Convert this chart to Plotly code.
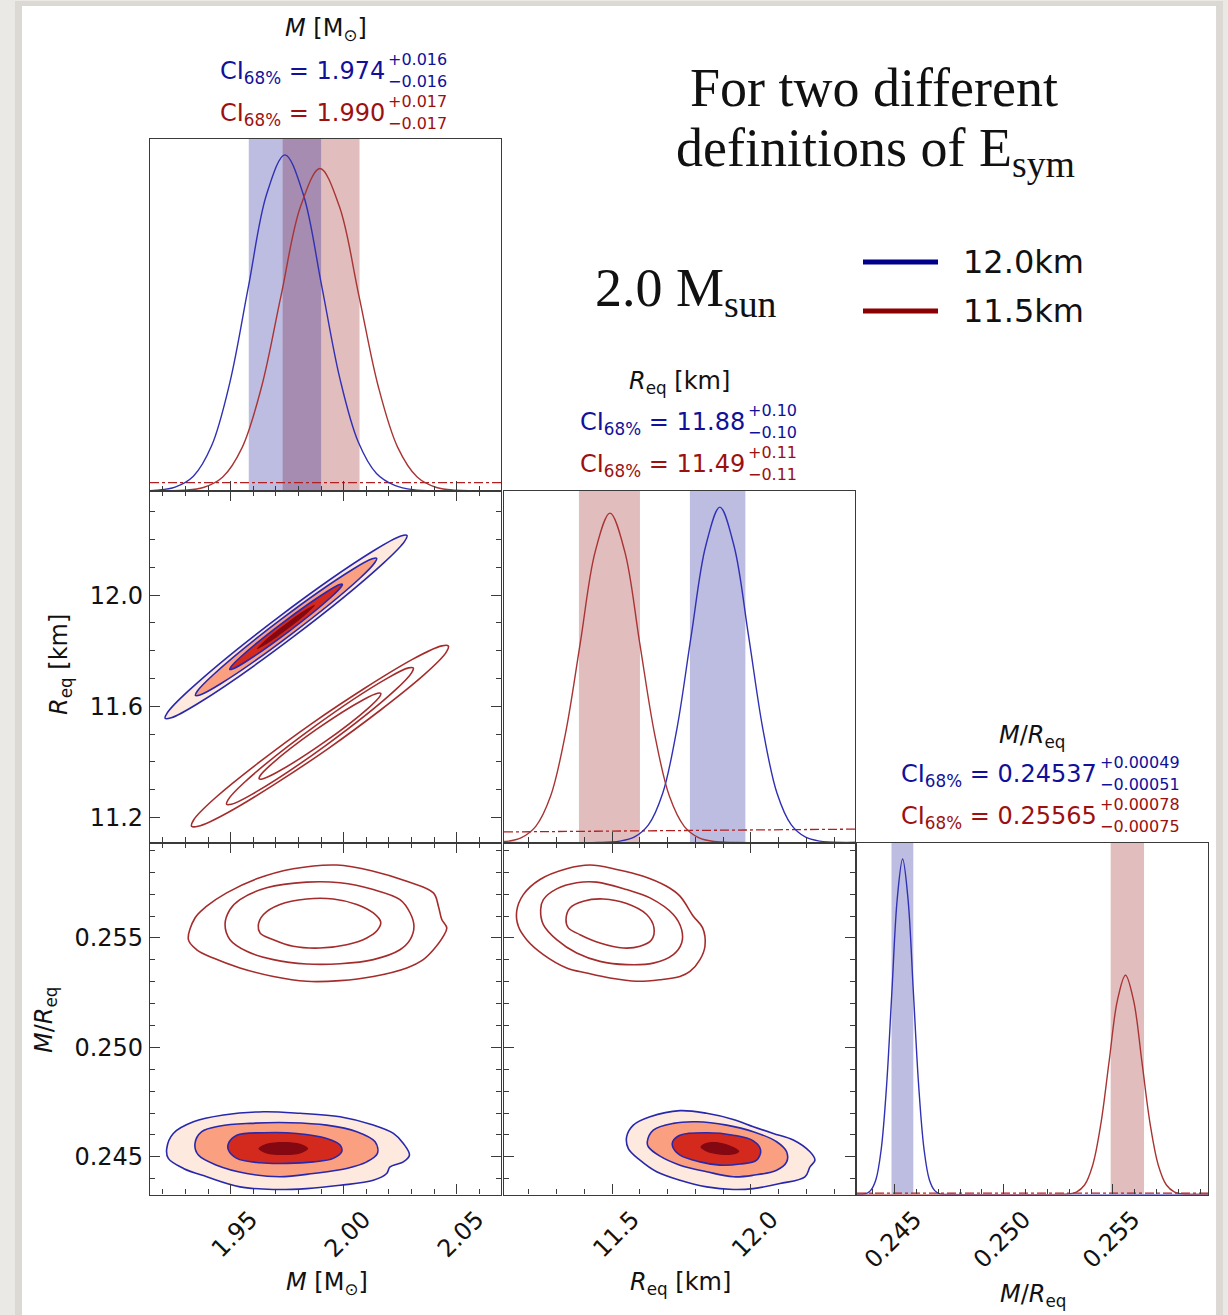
import plotly.graph_objects as go

W, H = 1228, 1315

# ---------------- summary statistics (68% CI) ----------------
param_names = ["M", "Req", "M/Req"]
blue_median = [1.974, 11.88, 0.24537]
blue_plus = [0.016, 0.10, 0.00049]
blue_minus = [0.016, 0.10, 0.00051]
red_median = [1.990, 11.49, 0.25565]
red_plus = [0.017, 0.11, 0.00078]
red_minus = [0.017, 0.11, 0.00075]
decimals = [3, 2, 5]
legend_labels = ["12.0km", "11.5km"]

# ---------------- axes ----------------
M_range = [1.9143, 2.0696]
R_range = [11.110, 12.375]
MR_range = [0.24328, 0.25936]
M_ticks = [1.95, 2.00, 2.05]
M_ticklabels = ["1.95", "2.00", "2.05"]
R_ticks_x = [11.5, 12.0]
R_ticklabels_x = ["11.5", "12.0"]
R_ticks_y = [11.2, 11.6, 12.0]
R_ticklabels_y = ["11.2", "11.6", "12.0"]
MR_ticks = [0.245, 0.250, 0.255]
MR_ticklabels = ["0.245", "0.250", "0.255"]

# ---------------- 1D marginals (height as fraction of panel height) ----------------
M_blue_x = [1.9143, 1.9173, 1.9254, 1.9335, 1.9416, 1.9497, 1.9578, 1.9659, 1.9740,
            1.9821, 1.9902, 1.9983, 2.0064, 2.0145, 2.0226, 2.0307, 2.0696]
M_blue_y = [0.001, 0.002, 0.011, 0.042, 0.129, 0.310, 0.579, 0.843, 0.955,
            0.843, 0.585, 0.320, 0.140, 0.050, 0.016, 0.004, 0.000]
M_red_x = [1.9143, 1.9293, 1.9379, 1.9465, 1.9551, 1.9637, 1.9723, 1.9809, 1.9895,
           1.9981, 2.0067, 2.0153, 2.0239, 2.0325, 2.0411, 2.0497, 2.0696]
M_red_y = [0.000, 0.002, 0.010, 0.040, 0.124, 0.297, 0.556, 0.808, 0.916,
           0.808, 0.556, 0.297, 0.124, 0.040, 0.010, 0.002, 0.000]

R_blue_x = [11.110, 11.450, 11.5275, 11.579, 11.6305, 11.682, 11.7335, 11.785, 11.8365, 11.888,
            11.9395, 11.991, 12.0425, 12.094, 12.1455, 12.197, 12.2485, 12.320, 12.375]
R_blue_y = [0.000, 0.000, 0.004, 0.015, 0.050, 0.140, 0.325, 0.590, 0.842, 0.954,
            0.842, 0.590, 0.325, 0.140, 0.050, 0.015, 0.004, 0.000, 0.000]
R_red_x = [11.110, 11.1175, 11.171, 11.2245, 11.278, 11.3315, 11.385, 11.4385, 11.492,
           11.5455, 11.599, 11.6525, 11.706, 11.7595, 11.813, 11.8665, 11.950, 12.375]
R_red_y = [0.003, 0.003, 0.013, 0.046, 0.132, 0.310, 0.568, 0.827, 0.937,
           0.827, 0.568, 0.310, 0.132, 0.046, 0.013, 0.003, 0.000, 0.000]

MR_blue_x = [0.24328, 0.243655, 0.24390, 0.244145, 0.24439, 0.244635, 0.24488, 0.245125, 0.24537,
             0.245615, 0.24586, 0.246105, 0.24635, 0.246595, 0.24684, 0.247085, 0.24760, 0.25936]
MR_blue_y = [0.000, 0.002, 0.011, 0.042, 0.129, 0.309, 0.578, 0.841, 0.953,
             0.841, 0.578, 0.309, 0.129, 0.042, 0.011, 0.002, 0.000, 0.000]
MR_red_x = [0.24328, 0.25250, 0.252955, 0.25333, 0.253705, 0.25408, 0.254455, 0.25483, 0.255205, 0.25558,
            0.255955, 0.25633, 0.256705, 0.25708, 0.257455, 0.25783, 0.258205, 0.25880, 0.25936]
MR_red_y = [0.000, 0.000, 0.0014, 0.007, 0.027, 0.084, 0.202, 0.378, 0.550, 0.623,
            0.550, 0.378, 0.202, 0.084, 0.027, 0.007, 0.0014, 0.000, 0.000]

# dash-dot reference levels in the 1D panels (left end, right end)
M_refline = [0.024, 0.024]
R_refline = [0.030, 0.038]
MR_refline = [0.004, 0.004]

# ---------------- 2D contours: R_eq vs M ----------------
RM_blue_outer_M = [2.0280, 2.0270, 2.0176, 1.9778, 1.9357, 1.9237, 1.9210, 1.9220, 1.9314, 1.9712, 2.0134, 2.0253]
RM_blue_outer_R = [12.2151, 12.1947, 12.1154, 11.8507, 11.6112, 11.5590, 11.5569, 11.5773, 11.6566, 11.9213, 12.1608, 12.2130]
RM_blue_mid_M = [2.0146, 2.0138, 2.0068, 1.9769, 1.9454, 1.9364, 1.9344, 1.9352, 1.9423, 1.9721, 2.0037, 2.0126]
RM_blue_mid_R = [12.1326, 12.1176, 12.0583, 11.8602, 11.6805, 11.6411, 11.6394, 11.6544, 11.7137, 11.9118, 12.0915, 12.1309]
RM_blue_in_M = [1.9994, 1.9989, 1.9945, 1.9759, 1.9563, 1.9508, 1.9496, 1.9501, 1.9545, 1.9731, 1.9927, 1.9982]
RM_blue_in_R = [12.0393, 12.0302, 11.9936, 11.8707, 11.7587, 11.7340, 11.7327, 11.7418, 11.7784, 11.9013, 12.0133, 12.0381]
RM_blue_core_M = [1.9874, 1.9841, 1.9752, 1.9659, 1.9616, 1.9649, 1.9738, 1.9831]
RM_blue_core_R = [11.9656, 11.9368, 11.8784, 11.8244, 11.8065, 11.8352, 11.8936, 11.9476]
RM_red_outer_M = [2.0463, 2.0454, 2.0355, 1.9933, 1.9484, 1.9356, 1.9327, 1.9336, 1.9435, 1.9857, 2.0306, 2.0434]
RM_red_outer_R = [11.8174, 11.7949, 11.7131, 11.4489, 11.2162, 11.1683, 11.1687, 11.1911, 11.2729, 11.5371, 11.7698, 11.8177]
RM_red_mid_M = [2.0308, 2.0301, 2.0230, 1.9923, 1.9596, 1.9503, 1.9482, 1.9489, 1.9560, 1.9867, 2.0194, 2.0287]
RM_red_mid_R = [11.7383, 11.7216, 11.6601, 11.4607, 11.2843, 11.2476, 11.2477, 11.2644, 11.3259, 11.5253, 11.7017, 11.7384]
RM_red_in_M = [2.0164, 2.0160, 2.0113, 1.9914, 1.9701, 1.9640, 1.9626, 1.9630, 1.9677, 1.9876, 2.0089, 2.0150]
RM_red_in_R = [11.6467, 11.6358, 11.5966, 11.4710, 11.3611, 11.3388, 11.3393, 11.3502, 11.3894, 11.5150, 11.6249, 11.6472]

# ---------------- 2D contours: M/R_eq vs M ----------------
MM_red_outer_M = [1.9313, 1.9342, 1.9394, 1.9482, 1.9615, 1.9777, 1.9969, 2.0131, 2.0279, 2.0397, 2.0419, 2.0434,
                  2.0456, 2.0441, 2.0397, 2.0352, 2.0279, 2.0131, 1.9984, 1.9836, 1.9689, 1.9541, 1.9423, 1.9350]
MM_red_outer_MR = [0.25492, 0.25591, 0.25645, 0.25706, 0.25770, 0.25816, 0.25833, 0.25805, 0.25759, 0.25706, 0.25645, 0.25584,
                   0.25546, 0.25508, 0.25446, 0.25401, 0.25363, 0.25324, 0.25305, 0.25302, 0.25324, 0.25363, 0.25408, 0.25446]
MM_red_mid_M = [1.9475, 1.9497, 1.9541, 1.9659, 1.9836, 1.9984, 2.0131, 2.0249, 2.0294, 2.0311, 2.0294, 2.0249,
                2.0131, 1.9984, 1.9836, 1.9689, 1.9571, 1.9497]
MM_red_mid_MR = [0.25561, 0.25630, 0.25675, 0.25729, 0.25755, 0.25752, 0.25721, 0.25675, 0.25614, 0.25553, 0.25492, 0.25446,
                 0.25401, 0.25382, 0.25381, 0.25401, 0.25439, 0.25492]
MM_red_in_M = [1.9622, 1.9645, 1.9718, 1.9836, 1.9954, 2.0058, 2.0131, 2.0164, 2.0149, 2.0102, 2.0013, 1.9895,
               1.9777, 1.9689, 1.9630]
MM_red_in_MR = [0.25556, 0.25607, 0.25653, 0.25678, 0.25678, 0.25653, 0.25614, 0.25572, 0.25535, 0.25500, 0.25469, 0.25454,
                0.25462, 0.25492, 0.25523]
MM_blue_outer_M = [1.9217, 1.9246, 1.9335, 1.9468, 1.9645, 1.9807, 1.9984, 2.0131, 2.0220, 2.0264, 2.0291, 2.0264,
                   2.0205, 2.0190, 2.0131, 1.9984, 1.9836, 1.9689, 1.9541, 1.9394, 1.9291, 1.9224]
MM_blue_outer_MR = [0.24538, 0.24607, 0.24660, 0.24691, 0.24706, 0.24699, 0.24683, 0.24645, 0.24607, 0.24561, 0.24508, 0.24477,
                    0.24454, 0.24424, 0.24393, 0.24370, 0.24355, 0.24351, 0.24363, 0.24409, 0.24447, 0.24493]
MM_blue_mid_M = [1.9342, 1.9372, 1.9453, 1.9586, 1.9763, 1.9925, 2.0058, 2.0139, 2.0149, 2.0102, 2.0013, 1.9866,
                 1.9718, 1.9571, 1.9438, 1.9357]
MM_blue_mid_MR = [0.24561, 0.24615, 0.24641, 0.24653, 0.24656, 0.24645, 0.24615, 0.24569, 0.24515, 0.24477, 0.24447, 0.24424,
                  0.24409, 0.24424, 0.24462, 0.24508]
MM_blue_in_M = [1.9490, 1.9527, 1.9645, 1.9792, 1.9925, 1.9984, 1.9991, 1.9954, 1.9866, 1.9748, 1.9630, 1.9527, 1.9490]
MM_blue_in_MR = [0.24561, 0.24599, 0.24610, 0.24607, 0.24584, 0.24554, 0.24523, 0.24493, 0.24477, 0.24470, 0.24473, 0.24493, 0.24531]
MM_blue_core_M = [1.9843, 1.9811, 1.9733, 1.9655, 1.9623, 1.9655, 1.9733, 1.9811]
MM_blue_core_MR = [0.24538, 0.24559, 0.24568, 0.24559, 0.24538, 0.24517, 0.24508, 0.24517]

# ---------------- 2D contours: M/R_eq vs R_eq ----------------
RR_red_outer_R = [11.1557, 11.1797, 11.2397, 11.3358, 11.4199, 11.5160, 11.6121, 11.6962, 11.7442, 11.7923, 11.8259, 11.8343,
                  11.8163, 11.7803, 11.7442, 11.6722, 11.5881, 11.4920, 11.4079, 11.3358, 11.2518, 11.1917, 11.1617]
RR_red_outer_MR = [0.25622, 0.25698, 0.25767, 0.25816, 0.25833, 0.25813, 0.25782, 0.25736, 0.25691, 0.25599, 0.25546, 0.25462,
                   0.25401, 0.25347, 0.25324, 0.25309, 0.25302, 0.25317, 0.25340, 0.25363, 0.25424, 0.25492, 0.25553]
RR_red_mid_R = [11.2421, 11.2518, 11.2998, 11.3719, 11.4439, 11.5521, 11.6361, 11.7202, 11.7502, 11.7502, 11.7202, 11.6481,
                11.5521, 11.4560, 11.3719, 11.2998, 11.2518]
RR_red_mid_MR = [0.25630, 0.25675, 0.25724, 0.25752, 0.25755, 0.25721, 0.25683, 0.25607, 0.25538, 0.25477, 0.25424, 0.25385,
                 0.25378, 0.25393, 0.25431, 0.25492, 0.25561]
RR_red_in_R = [11.3334, 11.3478, 11.3959, 11.4680, 11.5521, 11.6241, 11.6505, 11.6421, 11.6001, 11.5400, 11.4560, 11.3839, 11.3418]
RR_red_in_MR = [0.25584, 0.25637, 0.25668, 0.25678, 0.25657, 0.25607, 0.25546, 0.25492, 0.25462, 0.25454, 0.25477, 0.25515, 0.25546]
RR_blue_outer_R = [11.5521, 11.5761, 11.6361, 11.7442, 11.8403, 11.9364, 12.0085, 12.0806, 12.1527, 12.2127, 12.2307, 12.2127,
                   12.1947, 12.1046, 12.0085, 11.9364, 11.8403, 11.7442, 11.6602, 11.6001, 11.5581]
RR_blue_outer_MR = [0.24592, 0.24645, 0.24683, 0.24711, 0.24699, 0.24671, 0.24638, 0.24607, 0.24577, 0.24523, 0.24485, 0.24454,
                    0.24409, 0.24378, 0.24355, 0.24351, 0.24363, 0.24393, 0.24432, 0.24485, 0.24538]
RR_blue_mid_R = [11.6265, 11.6481, 11.7202, 11.8043, 11.9124, 12.0085, 12.0926, 12.1286, 12.1286, 12.0926, 12.0085, 11.9364,
                 11.8403, 11.7442, 11.6722, 11.6301]
RR_blue_mid_MR = [0.24569, 0.24622, 0.24653, 0.24660, 0.24645, 0.24615, 0.24569, 0.24523, 0.24477, 0.24439, 0.24416, 0.24409,
                  0.24432, 0.24462, 0.24503, 0.24546]
RR_blue_in_R = [11.7178, 11.7442, 11.8403, 11.9364, 12.0085, 12.0349, 12.0205, 11.9605, 11.8884, 11.8163, 11.7442, 11.7178]
RR_blue_in_MR = [0.24569, 0.24599, 0.24610, 0.24599, 0.24573, 0.24531, 0.24485, 0.24467, 0.24462, 0.24477, 0.24508, 0.24546]
RR_blue_core_R = [11.958, 11.937, 11.885, 11.835, 11.818, 11.839, 11.891, 11.941]
RR_blue_core_MR = [0.24525, 0.24545, 0.24566, 0.24562, 0.24545, 0.24525, 0.24510, 0.24512]

# ---------------- styling ----------------
BLUE_CURVE = "#3030b4"
RED_CURVE = "#a83434"
BLUE_CONT = "#2828ac"
RED_CONT = "#a52c2c"
BLUE_BAND = "rgba(0,0,139,0.26)"
RED_BAND = "rgba(139,0,0,0.26)"
BLUE_TEXT = "#10109a"
RED_TEXT = "#9c1010"
SHADES = ["#fee9de", "#fb9f81", "#d42a1e", "#840812"]
FONT = "DejaVu Sans"
AXC = "#3a3a3a"

cols = [(150, 501), (504, 855), (857, 1208)]
rows = [(139, 491), (491, 842.5), (842.5, 1194.5)]


def xdom(c):
    return [cols[c][0] / W, cols[c][1] / W]


def ydom(r):
    return [1 - rows[r][1] / H, 1 - rows[r][0] / H]


fig = go.Figure()


def closed(a):
    return list(a) + [a[0]]


def line(x, y, ax, color, width=1.5, dash=None, shape="spline", smoothing=1.0):
    fig.add_trace(go.Scatter(x=x, y=y, xaxis="x" + ax, yaxis="y" + ax, mode="lines",
                             line=dict(color=color, width=width, dash=dash, shape=shape, smoothing=smoothing),
                             hoverinfo="skip", showlegend=False))


def fill(x, y, ax, color):
    fig.add_trace(go.Scatter(x=closed(x), y=closed(y), xaxis="x" + ax, yaxis="y" + ax, mode="lines",
                             line=dict(color=color, width=0, shape="spline", smoothing=1.0),
                             fill="toself", fillcolor=color, hoverinfo="skip", showlegend=False))


def band(lo, hi, ax, color):
    fig.add_trace(go.Scatter(x=[lo, hi, hi, lo, lo], y=[0, 0, 1, 1, 0], xaxis="x" + ax, yaxis="y" + ax,
                             mode="lines", line=dict(width=0), fill="toself", fillcolor=color,
                             hoverinfo="skip", showlegend=False))


# ---- 1D panels ----
oned = [("", 0, M_range, M_blue_x, M_blue_y, M_red_x, M_red_y, M_refline),
        ("3", 1, R_range, R_blue_x, R_blue_y, R_red_x, R_red_y, R_refline),
        ("6", 2, MR_range, MR_blue_x, MR_blue_y, MR_red_x, MR_red_y, MR_refline)]
for ax, i, rng, bx, by, rx, ry, ref in oned:
    band(red_median[i] - red_minus[i], red_median[i] + red_plus[i], ax, RED_BAND)
    band(blue_median[i] - blue_minus[i], blue_median[i] + blue_plus[i], ax, BLUE_BAND)
    line(rng, ref, ax, "#b02020", width=1.3, dash="dashdot", shape="linear")
    line(bx, by, ax, BLUE_CURVE, width=1.4, smoothing=1.0)
    line(rx, ry, ax, RED_CURVE, width=1.4, smoothing=1.0)

# ---- 2D panels ----
twod = [
    ("2", [(RM_blue_outer_M, RM_blue_outer_R), (RM_blue_mid_M, RM_blue_mid_R), (RM_blue_in_M, RM_blue_in_R)],
     (RM_blue_core_M, RM_blue_core_R),
     [(RM_red_outer_M, RM_red_outer_R), (RM_red_mid_M, RM_red_mid_R), (RM_red_in_M, RM_red_in_R)]),
    ("4", [(MM_blue_outer_M, MM_blue_outer_MR), (MM_blue_mid_M, MM_blue_mid_MR), (MM_blue_in_M, MM_blue_in_MR)],
     (MM_blue_core_M, MM_blue_core_MR),
     [(MM_red_outer_M, MM_red_outer_MR), (MM_red_mid_M, MM_red_mid_MR), (MM_red_in_M, MM_red_in_MR)]),
    ("5", [(RR_blue_outer_R, RR_blue_outer_MR), (RR_blue_mid_R, RR_blue_mid_MR), (RR_blue_in_R, RR_blue_in_MR)],
     (RR_blue_core_R, RR_blue_core_MR),
     [(RR_red_outer_R, RR_red_outer_MR), (RR_red_mid_R, RR_red_mid_MR), (RR_red_in_R, RR_red_in_MR)]),
]
for ax, bl, core, rd in twod:
    for (cx, cy), col in zip(bl, SHADES[:3]):
        fill(cx, cy, ax, col)
    fill(core[0], core[1], ax, SHADES[3])
    for cx, cy in bl:
        line(closed(cx), closed(cy), ax, BLUE_CONT, width=1.6)
    for cx, cy in rd:
        line(closed(cx), closed(cy), ax, RED_CONT, width=1.6)

# ---- axes ----
tickfont = dict(family=FONT, size=24, color="#111111")


def base_axis(**kw):
    d = dict(showline=True, linecolor=AXC, linewidth=1.2, showgrid=False, zeroline=False,
             ticks="inside", ticklen=10, tickwidth=1.1, tickcolor=AXC, tickfont=tickfont,
             fixedrange=True)
    d.update(kw)
    return d


def minor(dt, t0):
    return dict(ticks="inside", ticklen=5, tickwidth=1, tickcolor=AXC, dtick=dt, tick0=t0, showgrid=False)


layout_axes = {}
layout_axes["xaxis"] = base_axis(domain=xdom(0), anchor="y", range=M_range, mirror=True,
                                 tickvals=M_ticks, ticktext=M_ticklabels, showticklabels=False, minor=minor(0.01, 1.95))
layout_axes["yaxis"] = base_axis(domain=ydom(0), anchor="x", range=[0, 1], mirror=True, ticks="", showticklabels=False)
layout_axes["xaxis2"] = base_axis(domain=xdom(0), anchor="y2", range=M_range, mirror="ticks",
                                  tickvals=M_ticks, ticktext=M_ticklabels, showticklabels=False, minor=minor(0.01, 1.95))
layout_axes["yaxis2"] = base_axis(domain=ydom(1), anchor="x2", range=R_range, mirror="ticks",
                                  tickvals=R_ticks_y, ticktext=R_ticklabels_y, minor=minor(0.1, 11.2),
                                  ticklabelstandoff=1)
layout_axes["xaxis3"] = base_axis(domain=xdom(1), anchor="y3", range=R_range, mirror=True,
                                  tickvals=R_ticks_x, ticktext=R_ticklabels_x, showticklabels=False, minor=minor(0.1, 11.5))
layout_axes["yaxis3"] = base_axis(domain=ydom(1), anchor="x3", range=[0, 1], mirror=True, ticks="", showticklabels=False)
layout_axes["xaxis4"] = base_axis(domain=xdom(0), anchor="y4", range=M_range, mirror="ticks",
                                  tickvals=M_ticks, ticktext=M_ticklabels, tickangle=-45, ticklabelshift=20,
                                  minor=minor(0.01, 1.95))
layout_axes["yaxis4"] = base_axis(domain=ydom(2), anchor="x4", range=MR_range, mirror="ticks",
                                  tickvals=MR_ticks, ticktext=MR_ticklabels, minor=minor(0.001, 0.245),
                                  ticklabelstandoff=1)
layout_axes["xaxis5"] = base_axis(domain=xdom(1), anchor="y5", range=R_range, mirror="ticks",
                                  tickvals=R_ticks_x, ticktext=R_ticklabels_x, tickangle=-45, ticklabelshift=20,
                                  minor=minor(0.1, 11.5))
layout_axes["yaxis5"] = base_axis(domain=ydom(2), anchor="x5", range=MR_range, mirror="ticks",
                                  tickvals=MR_ticks, showticklabels=False, minor=minor(0.001, 0.245))
layout_axes["xaxis6"] = base_axis(domain=xdom(2), anchor="y6", range=MR_range, mirror=True,
                                  tickvals=MR_ticks, ticktext=MR_ticklabels, tickangle=-45, ticklabelshift=20,
                                  minor=minor(0.001, 0.245))
layout_axes["yaxis6"] = base_axis(domain=ydom(2), anchor="x6", range=[0, 1], mirror=True, ticks="", showticklabels=False)

fig.update_layout(**layout_axes)


# ---- annotations ----
def ann(text, x, y, size=24, color="#111111", xanchor="center", yanchor="middle", family=FONT, angle=0):
    fig.add_annotation(text=text, x=x / W, y=1 - y / H, xref="paper", yref="paper", showarrow=False,
                       xanchor=xanchor, yanchor=yanchor, textangle=angle, borderpad=0,
                       font=dict(family=family, size=size, color=color))


titles = ["<i>M</i> [M<sub>⊙</sub>]", "<i>R</i><sub>eq</sub> [km]", "<i>M</i>/<i>R</i><sub>eq</sub>"]
title_pos = [(326, 30), (679, 382), (1032, 736)]
ci_right = [386, 746, 1098]
ci_blue_y = [70, 421, 773]
ci_red_y = [112, 463, 815]

for i in range(3):
    ann(titles[i], *title_pos[i])
    d = decimals[i]
    for med, pl, mi, yy, col in [(blue_median[i], blue_plus[i], blue_minus[i], ci_blue_y[i], BLUE_TEXT),
                                 (red_median[i], red_plus[i], red_minus[i], ci_red_y[i], RED_TEXT)]:
        ann(f"CI<sub>68%</sub> = {med:.{d}f}", ci_right[i], yy + 2, color=col, xanchor="right")
        ann(f"+{pl:.{d}f}", ci_right[i] + 1, yy, size=16, color=col, xanchor="left", yanchor="bottom")
        ann(f"\u2212{mi:.{d}f}", ci_right[i] + 1, yy + 1, size=16, color=col, xanchor="left", yanchor="top")

# axis titles
ann(titles[0], 327, 1283)
ann(titles[1], 680, 1283)
ann(titles[2], 1033, 1295)
ann(titles[1], 60, 665, angle=-90)
ann(titles[2], 45, 1020, angle=-90)

# text block
SERIF = "Liberation Serif"
ann("For two different", 874, 88, size=54, family=SERIF)
ann("definitions of E<sub>sym</sub>", 875, 151, size=54, family=SERIF)
ann("2.0 M<sub>sun</sub>", 686, 291, size=54, family=SERIF)

# legend
legend_colors = ["#00008b", "#8b0000"]
legend_y = [262, 311]
for lab, col, yy in zip(legend_labels, legend_colors, legend_y):
    fig.add_shape(type="line", xref="paper", yref="paper", x0=863 / W, x1=938 / W,
                  y0=1 - yy / H, y1=1 - yy / H, line=dict(color=col, width=5))
    ann(lab, 962, yy, size=32, xanchor="left")

# page background / card
fig.add_shape(type="rect", xref="paper", yref="paper", x0=15 / W, x1=1223 / W, y0=0, y1=1 - 1 / H,
              fillcolor="#dcd9d4", line=dict(width=0), layer="below")
fig.add_shape(type="rect", xref="paper", yref="paper", x0=22 / W, x1=1216 / W, y0=0, y1=1 - 6 / H,
              fillcolor="white", line=dict(width=0), layer="below")

fig.update_layout(width=W, height=H, autosize=False, margin=dict(l=0, r=0, t=0, b=0, pad=0),
                  paper_bgcolor="#ebe9e5", plot_bgcolor="white", showlegend=False,
                  font=dict(family=FONT, size=24, color="#111111"))

fig.write_html("out.html", include_plotlyjs=True, config={"displayModeBar": False})
